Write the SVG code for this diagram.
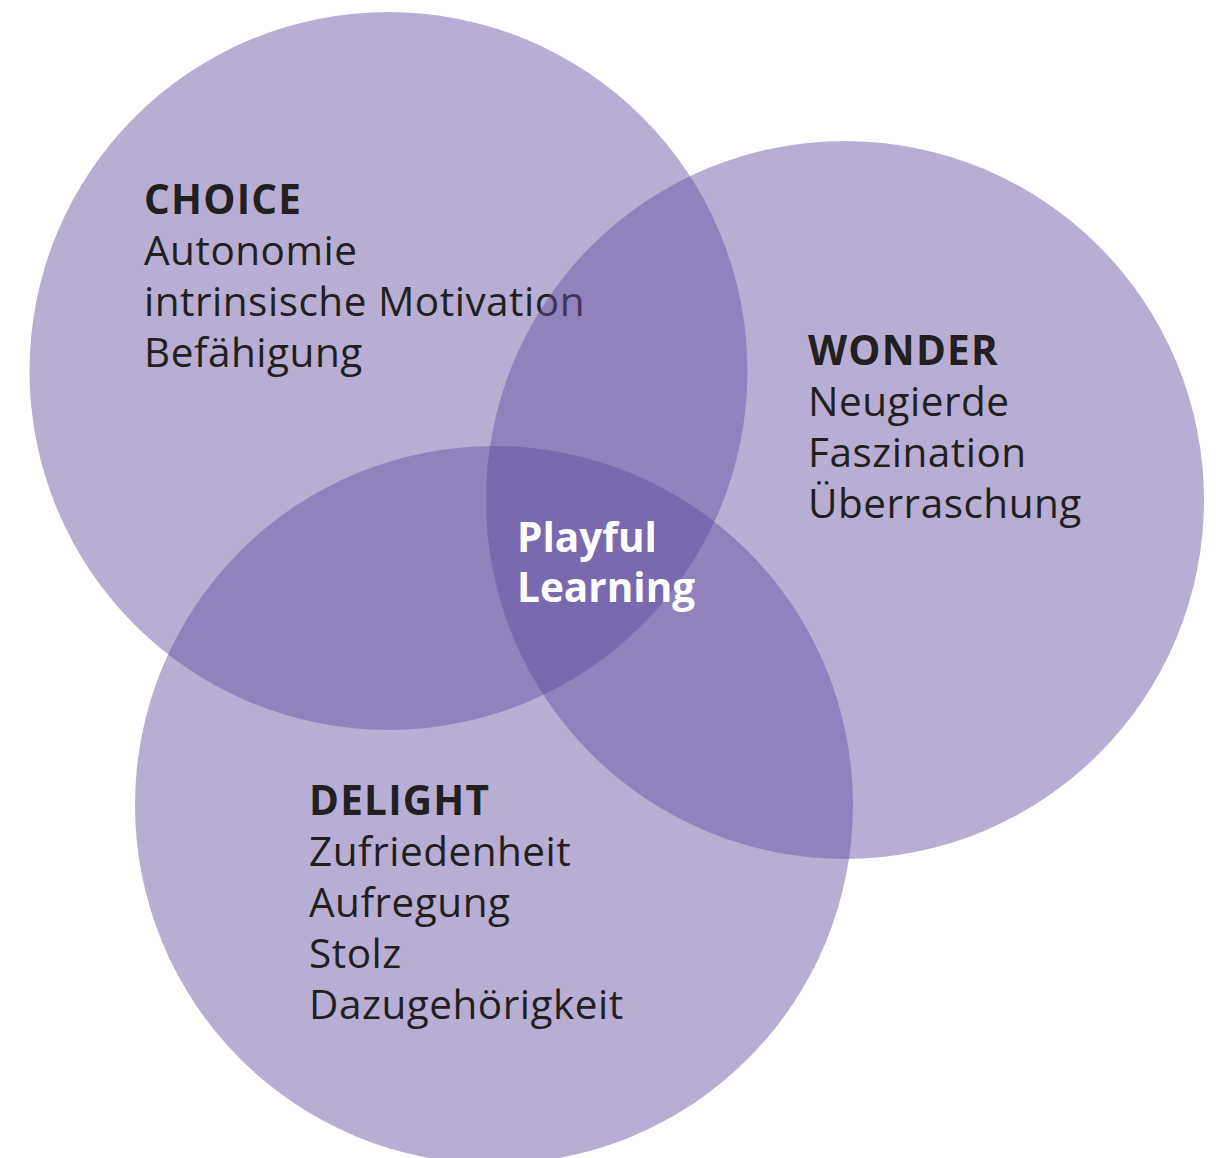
<svg xmlns="http://www.w3.org/2000/svg" width="1218" height="1158" viewBox="0 0 1218 1158">
  <style>
    .ring { fill: #624ba0; fill-opacity: 0.45; }
    text { font-family: "Open Sans", "Noto Sans", "DejaVu Sans", sans-serif; font-size: 40.5px; letter-spacing: 0.5px; fill: #231f20; }
    .head { font-weight: 700; letter-spacing: 1.2px; }
    .core { font-weight: 700; fill: #ffffff; letter-spacing: 0px; }
  </style>
  <rect width="1218" height="1158" fill="#ffffff"/>
  <g id="choice">
    <circle class="ring" cx="388.5" cy="371" r="359"/>
    <text x="144" y="214" class="head">CHOICE</text>
    <text x="144" y="265">Autonomie</text>
    <text x="144" y="316">intrinsische Motivation</text>
    <text x="144" y="367">Befähigung</text>
  </g>
  <g id="wonder">
    <circle class="ring" cx="845" cy="500" r="359"/>
    <text x="808" y="365" class="head">WONDER</text>
    <text x="808" y="416">Neugierde</text>
    <text x="808" y="467">Faszination</text>
    <text x="808" y="518">Überraschung</text>
  </g>
  <g id="delight">
    <circle class="ring" cx="494" cy="805" r="359"/>
    <text x="309" y="815" class="head">DELIGHT</text>
    <text x="309" y="866">Zufriedenheit</text>
    <text x="309" y="917">Aufregung</text>
    <text x="309" y="968">Stolz</text>
    <text x="309" y="1019">Dazugehörigkeit</text>
  </g>
  <g id="playful-learning">
    <text x="517" y="552" class="core">Playful</text>
    <text x="517" y="602" class="core">Learning</text>
  </g>
  <g id="connectors"/>
</svg>
